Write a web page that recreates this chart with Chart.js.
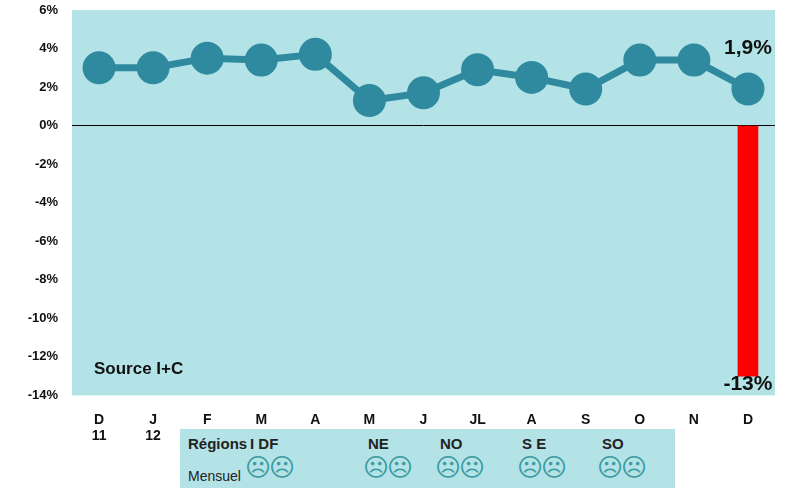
<!DOCTYPE html><html><head><meta charset="utf-8">
<script src="https://cdn.jsdelivr.net/npm/chart.js@4"></script>
<style>body{margin:0;background:#fff;font-family:'Liberation Sans',Arial,sans-serif}
#wrap{position:relative;width:800px;height:494px}
#tbl{position:absolute;left:180px;top:429px;width:495px;height:59px;background:#b3e3e6;font-weight:bold;font-size:15px;color:#222}
#tbl span{position:absolute}
.f{color:#3a9aa0;font-weight:normal;font-size:25px;font-family:'DejaVu Sans';letter-spacing:-2px}
</style></head><body><div id="wrap"><canvas id="c" width="800" height="494"></canvas>
<div id="tbl"></div></div>
<script>
const categories=[["D","11"],["J","12"],"F","M","A","M","J","JL","A","S","O","N","D"];
const monthly=[3.0,3.0,3.5,3.4,3.7,1.3,1.7,2.9,2.5,1.9,3.4,3.4,1.9];
const yearBar=[null,null,null,null,null,null,null,null,null,null,null,null,-13];
const regions=[["I DF",250],["NE",368],["NO",440],["S E",522],["SO",602]];
const tbl=document.getElementById('tbl');
let h='<span style="left:8px;top:6px">Régions</span><span style="left:8px;top:39px;font-weight:normal;font-size:14px">Mensuel</span>';
regions.forEach(([n,x])=>{h+=`<span style="left:${x-180}px;top:6px">${n}</span><span class="f" style="left:${x-180-5}px;top:24px">☹☹</span>`;});
tbl.innerHTML=h;
const bg={id:'bg',beforeDraw(c){const a=c.chartArea,x=c.ctx;x.save();x.fillStyle='#b3e3e6';x.fillRect(a.left,a.top,a.right-a.left,a.bottom-a.top);x.restore();},
afterDraw(c){const x=c.ctx,xs=c.scales.x,ys=c.scales.y;x.save();x.font='bold 21px "Liberation Sans",Arial';x.fillStyle='#111';x.textAlign='center';
x.fillText('1,9%',xs.getPixelForValue(12),ys.getPixelForValue(3.7));x.fillText('-13%',xs.getPixelForValue(12),ys.getPixelForValue(-13.2)+10);
x.font='bold 17px "Liberation Sans",Arial';x.textAlign='left';x.fillText('Source I+C',94,ys.getPixelForValue(-12.7)+4);x.restore();}};
new Chart(document.getElementById('c'),{data:{labels:categories,datasets:[
{type:'line',data:monthly,borderColor:'#2f8aa0',backgroundColor:'#2f8aa0',borderWidth:7,pointRadius:13,pointHoverRadius:13,order:0},
{type:'bar',data:yearBar,backgroundColor:'#ff0000',barThickness:20,order:1}]},
options:{responsive:false,animation:false,events:[],layout:{autoPadding:false,padding:{top:10,right:25,bottom:41,left:10}},
plugins:{legend:{display:false},tooltip:{enabled:false}},
scales:{x:{grid:{display:false},border:{display:false},ticks:{color:'#111',font:{weight:'bold',size:14,family:'Liberation Sans'},padding:8}},
y:{min:-14,max:6,afterFit:s=>{s.width=62;s.paddingTop=0;s.paddingBottom=0},ticks:{stepSize:2,padding:14,color:'#111',font:{weight:'bold',size:13,family:'Liberation Sans'},callback:v=>v+'%'},border:{display:false},
grid:{drawTicks:false,color:c=>c.tick.value===0?'#000':'transparent',lineWidth:1}}}},plugins:[bg]});
</script></body></html>
